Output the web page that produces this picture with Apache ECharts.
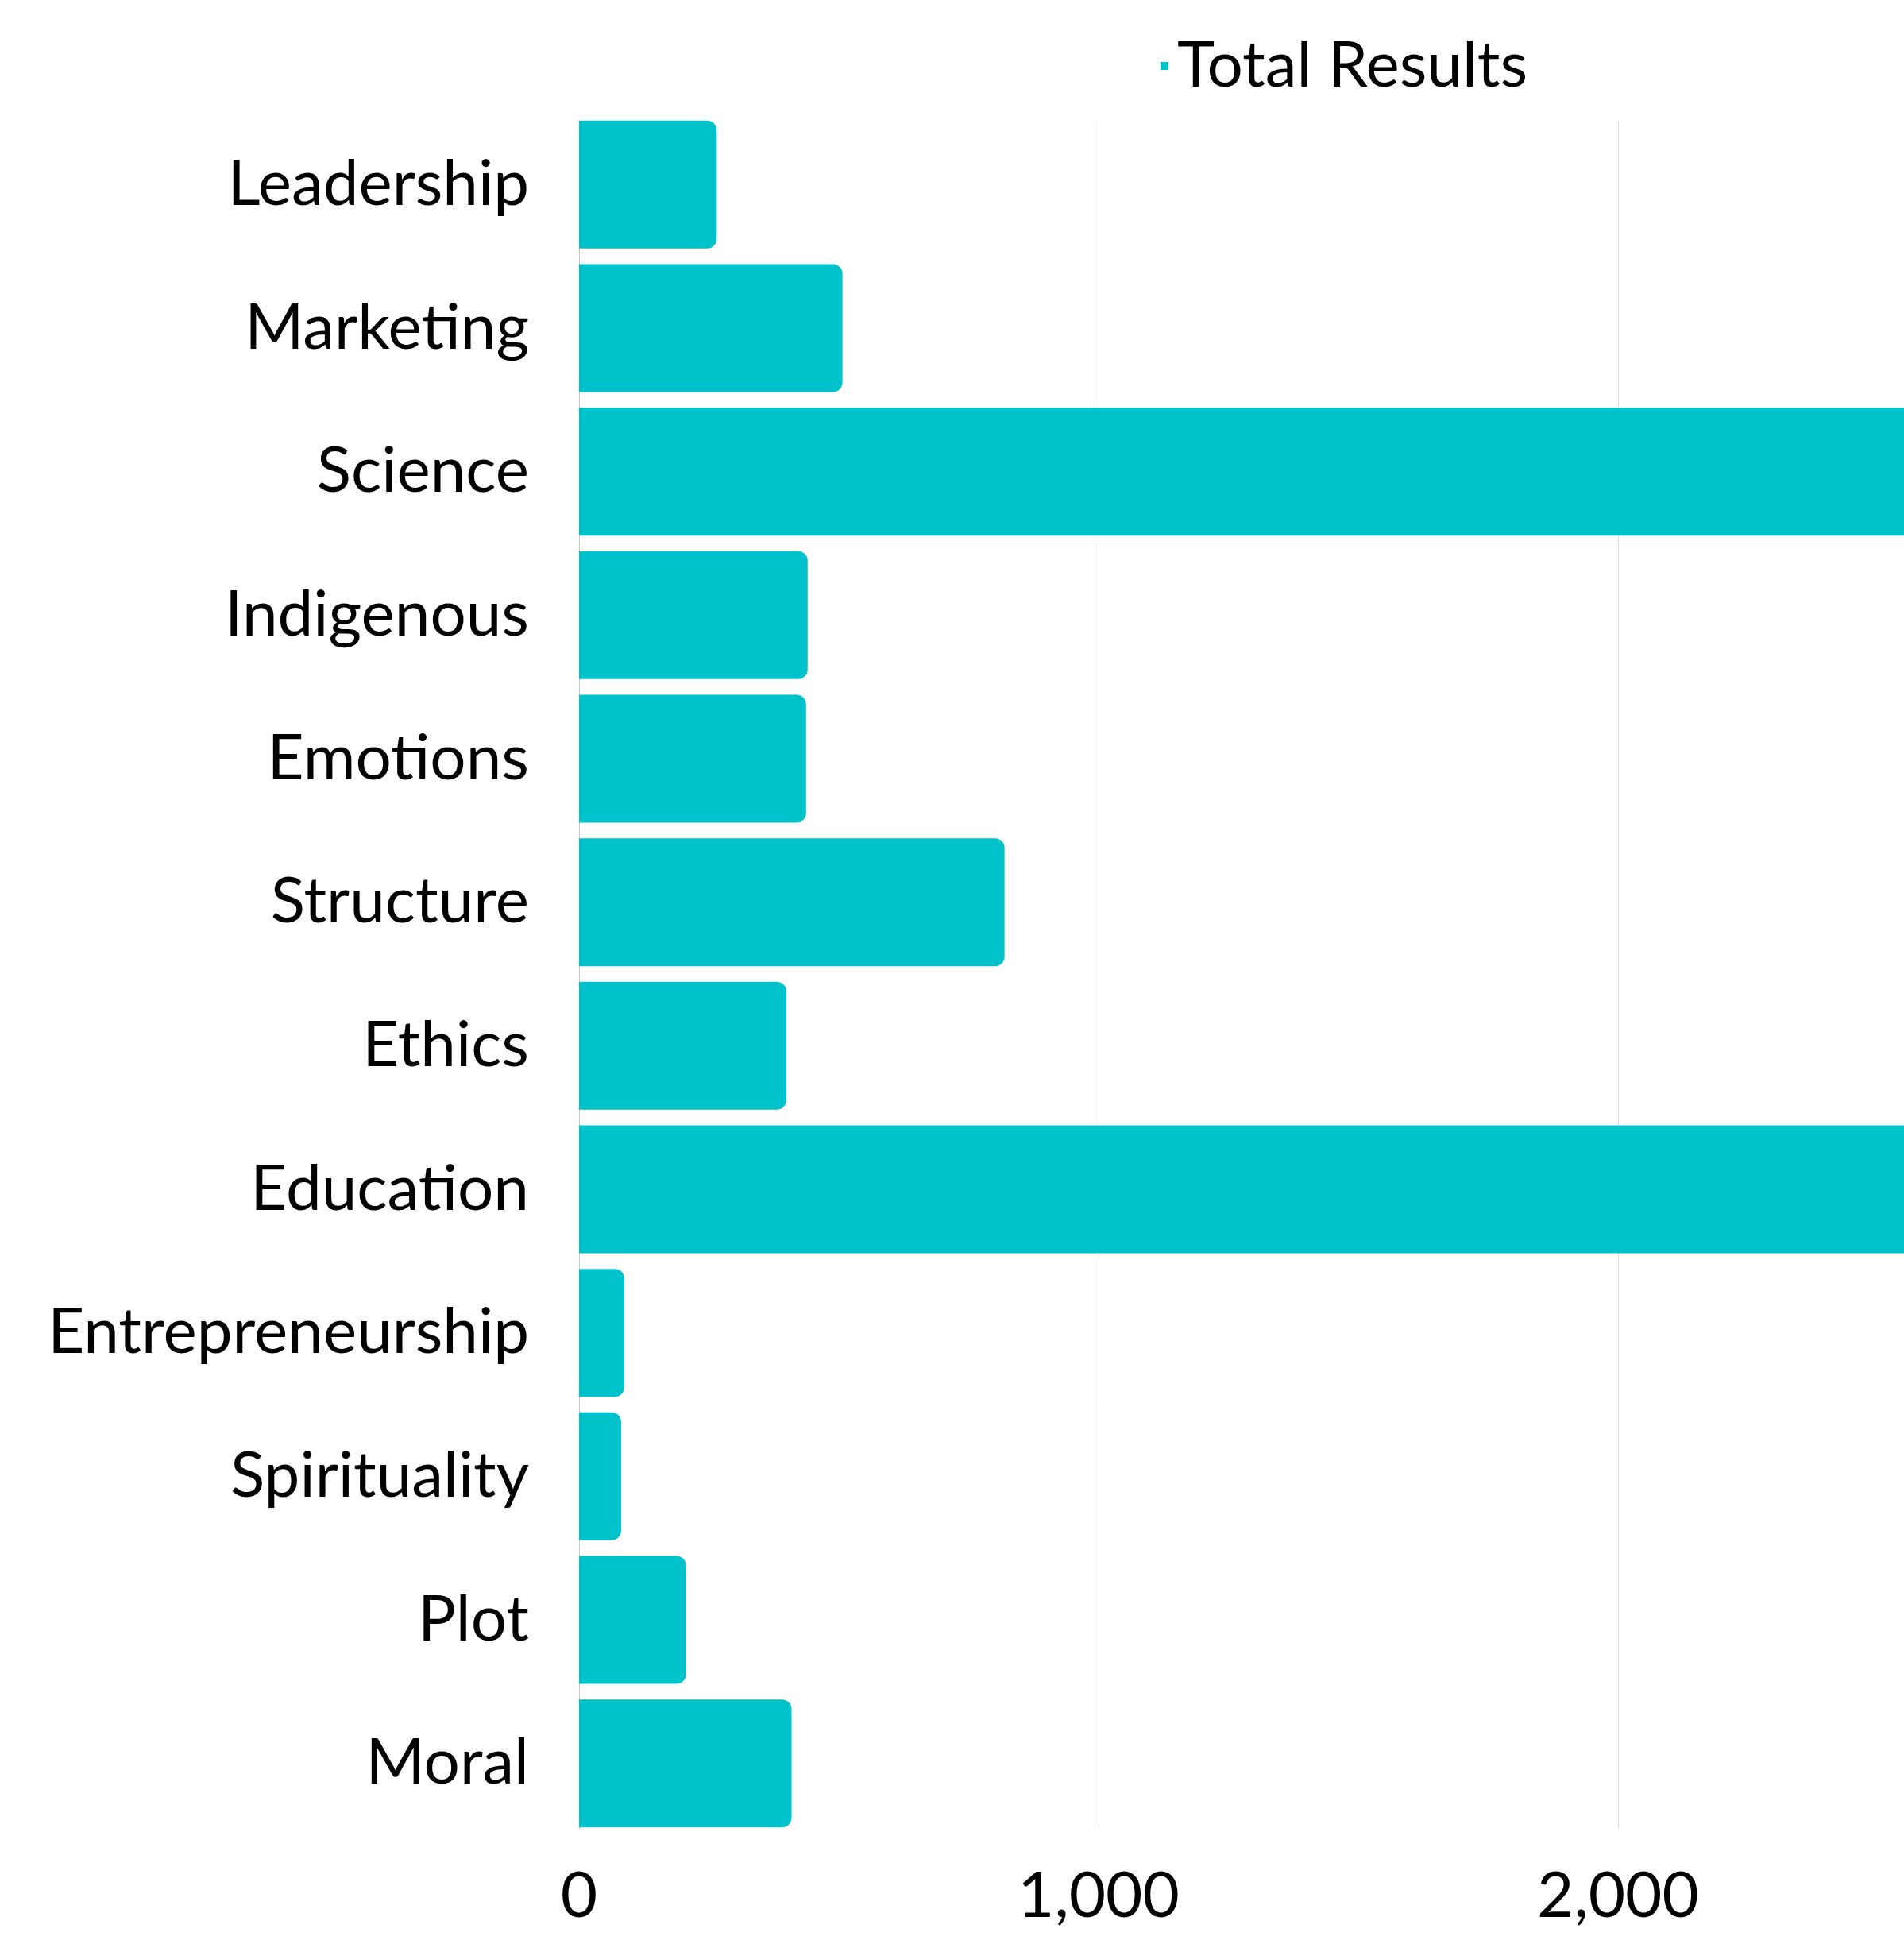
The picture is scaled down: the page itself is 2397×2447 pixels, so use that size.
<!DOCTYPE html>
<html>
<head>
<meta charset="utf-8">
<script src="https://cdn.jsdelivr.net/npm/echarts@6/dist/echarts.min.js"></script>
<style>
  html, body { margin: 0; padding: 0; background: #ffffff; }
  #chart { width: 2397px; height: 2447px; }
</style>
</head>
<body>
<div id="chart"></div>
<script>
// Categories top to bottom
const categories = ["Leadership", "Marketing", "Science", "Indigenous", "Emotions", "Structure",
  "Ethics", "Education", "Entrepreneurship", "Spirituality", "Plot", "Moral"];
// Total Results (Science and Education run past the right edge of the picture)
const totalResults = [265, 507, 2900, 440, 437, 819, 399, 2800, 87, 81, 206, 409];
const seriesName = "Total Results";
const xTicks = [0, 1000, 2000, 3000];

const FONT = "Lato, 'Noto Sans', sans-serif";
const chart = echarts.init(document.getElementById('chart'));
chart.setOption({
  animation: false,
  backgroundColor: '#ffffff',
  legend: {
    data: [seriesName],
    left: 1456,
    top: 38,
    icon: 'rect',
    itemWidth: 10,
    itemHeight: 10,
    textStyle: { fontFamily: FONT, fontSize: 80, color: '#000000', lineHeight: 80, padding: [0, 0, 0, 6] }
  },
  grid: [
    { left: 729, top: 142, width: 1962, height: 2168, containLabel: false, outerBoundsMode: 'none' },
    { left: 729, top: 152, width: 1962, height: 2150, containLabel: false, outerBoundsMode: 'none' }
  ],
  xAxis: [{
    type: 'value',
    gridIndex: 0,
    min: xTicks[0],
    max: xTicks[xTicks.length - 1],
    interval: 1000,
    axisLine: { show: false },
    axisTick: { show: false },
    splitLine: { show: false },
    axisLabel: { fontFamily: FONT, fontSize: 80, color: '#000000', lineHeight: 80, margin: 37 }
  }, {
    type: 'value',
    gridIndex: 1,
    min: xTicks[0],
    max: xTicks[xTicks.length - 1],
    interval: 1000,
    axisLine: { show: false },
    axisTick: { show: false },
    axisLabel: { show: false },
    splitLine: { show: true, lineStyle: { color: ['#cccccc', '#e0e0e0', '#e0e0e0', '#e0e0e0'], width: 1 } }
  }],
  yAxis: [{
    type: 'category',
    gridIndex: 0,
    data: categories,
    inverse: true,
    axisLine: { show: false },
    axisTick: { show: false },
    splitLine: { show: false },
    axisLabel: { fontFamily: FONT, fontSize: 80, color: '#000000', margin: 63 }
  }, {
    type: 'value',
    gridIndex: 1,
    min: 0,
    max: 1,
    show: false
  }],
  series: [{
    name: seriesName,
    type: 'bar',
    xAxisIndex: 0,
    yAxisIndex: 0,
    data: totalResults,
    barCategoryGap: '10.9%',
    z: 3,
    itemStyle: { color: '#00C2CB', borderRadius: [0, 12, 12, 0] }
  }]
});
</script>
</body>
</html>
